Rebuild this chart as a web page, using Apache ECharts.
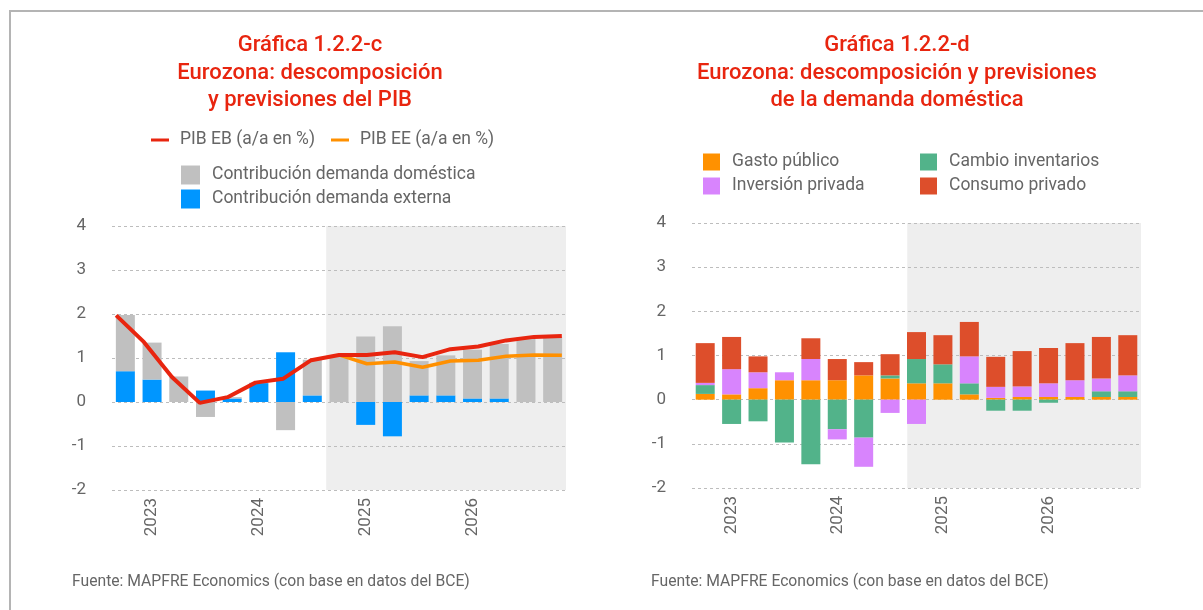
<!DOCTYPE html>
<html>
<head>
<meta charset="utf-8">
<script src="https://cdn.jsdelivr.net/npm/echarts@6/dist/echarts.min.js"></script>
<style>
html,body{margin:0;padding:0;background:#ffffff;}
#chart{width:1203px;height:610px;}
</style>
</head>
<body>
<div id="chart"></div>
<script>
// ---------- DATA ----------
const categories = ['2022-T4',
  '2023-T1','2023-T2','2023-T3','2023-T4',
  '2024-T1','2024-T2','2024-T3','2024-T4',
  '2025-T1','2025-T2','2025-T3','2025-T4',
  '2026-T1','2026-T2','2026-T3','2026-T4'];
const yTicks = [-2, -1, 0, 1, 2, 3, 4];

// Left chart (Gráfica 1.2.2-c)
const pibEB = [1.97, 1.36, 0.57, -0.02, 0.11, 0.44, 0.53, 0.95, 1.07, 1.07, 1.13, 1.02, 1.20, 1.26, 1.40, 1.48, 1.50];
const pibEE = [null, null, null, null, null, null, null, null, 1.07, 0.87, 0.91, 0.79, 0.93, 0.95, 1.04, 1.07, 1.06];
const contribDomestica = [1.28, 0.84, 0.58, -0.34, 0.03, 0.01, -0.64, 0.81, 1.05, 1.49, 1.72, 0.78, 0.91, 1.11, 1.24, 1.47, 1.47];
const contribExterna   = [0.70, 0.51, 0.00, 0.26, 0.08, 0.43, 1.13, 0.15, 0.00, -0.52, -0.78, 0.15, 0.15, 0.08, 0.08, 0.00, 0.00];

// Right chart (Gráfica 1.2.2-d)
const gastoPublico      = [0.13, 0.12, 0.26, 0.44, 0.44, 0.44, 0.55, 0.48, 0.37, 0.37, 0.12, 0.04, 0.06, 0.06, 0.06, 0.06, 0.06];
const cambioInventarios = [0.20, -0.55, -0.49, -0.97, -1.46, -0.67, -0.86, 0.07, 0.55, 0.43, 0.25, -0.25, -0.25, -0.07, 0.00, 0.13, 0.13];
const inversionPrivada  = [0.05, 0.57, 0.36, 0.18, 0.48, -0.23, -0.66, -0.30, -0.55, 0.00, 0.61, 0.25, 0.24, 0.31, 0.38, 0.29, 0.36];
const consumoPrivado    = [0.90, 0.73, 0.36, 0.00, 0.47, 0.48, 0.30, 0.48, 0.61, 0.66, 0.78, 0.68, 0.80, 0.80, 0.84, 0.94, 0.91];

// Forecast shading start (in category-index units, band boundaries at .5)
const forecastStartLeft = 7.52;
const forecastStartRight = 7.65;

// ---------- STYLE ----------
const FONT = 'Roboto, "Noto Sans", sans-serif';
const GRAY_TEXT = '#666666';
const TITLE_RED = '#e8250f';

const chart = echarts.init(document.getElementById('chart'), null, {renderer: 'canvas'});

function yearLabel(v) {
  return v.slice(5) === 'T1' ? v.slice(0, 4) : '';
}

function catAxis(gridIndex) {
  return {
    type: 'category', gridIndex: gridIndex, data: categories,
    axisLine: {show: false}, axisTick: {show: false},
    axisLabel: {interval: 0, rotate: 90, margin: 8, color: GRAY_TEXT, fontSize: 17, fontFamily: FONT, formatter: yearLabel},
    splitLine: {show: false}
  };
}
function hiddenValueX(gridIndex, min, max) {
  return {type: 'value', gridIndex: gridIndex, min: min, max: max, show: false,
          axisLine: {show: false}, splitLine: {show: false}, axisLabel: {show: false}, axisTick: {show: false}};
}
function yAxisDef(gridIndex) {
  return {
    type: 'value', gridIndex: gridIndex, min: yTicks[0], max: yTicks[yTicks.length - 1], interval: 1, z: 1,
    axisLine: {show: false}, axisTick: {show: false},
    axisLabel: {margin: 26, color: GRAY_TEXT, fontSize: 17, fontFamily: FONT},
    splitLine: {show: true, lineStyle: {color: '#bdbdbd', width: 1, type: [3, 3]}}
  };
}

const legendText = {fontSize: 17.5, color: GRAY_TEXT, fontFamily: FONT, lineHeight: 20, padding: [0, 0, 0, 6]};

const option = {
  animation: false,
  backgroundColor: '#ffffff',
  grid: [
    {left: 112, top: 226, width: 454, height: 264, containLabel: false},
    {left: 692, top: 223, width: 449, height: 265, containLabel: false}
  ],
  xAxis: [
    catAxis(0),
    hiddenValueX(0, -0.15, 16.15),
    hiddenValueX(0, -0.5, 16.5),
    catAxis(1),
    hiddenValueX(1, -0.5, 16.5)
  ],
  yAxis: [yAxisDef(0), yAxisDef(1)],
  legend: [
    {
      data: ['PIB EB (a/a en %)', 'PIB EE (a/a en %)'],
      orient: 'horizontal', left: 151, top: 130, padding: 0,
      icon: 'rect', itemWidth: 18, itemHeight: 3, itemGap: 16,
      textStyle: legendText, selectedMode: false
    },
    {
      data: ['Contribución demanda doméstica', 'Contribución demanda externa'],
      orient: 'vertical', left: 181, top: 165, padding: 0,
      icon: 'rect', itemWidth: 19, itemHeight: 19, itemGap: 4,
      textStyle: Object.assign({}, legendText, {padding: [0, 0, 0, 7]}), selectedMode: false
    },
    {
      data: ['Gasto público', 'Inversión privada'],
      orient: 'vertical', left: 703, top: 152, padding: 0,
      icon: 'rect', itemWidth: 17, itemHeight: 17, itemGap: 4,
      textStyle: Object.assign({}, legendText, {padding: [0, 0, 0, 7]}), selectedMode: false
    },
    {
      data: ['Cambio inventarios', 'Consumo privado'],
      orient: 'vertical', left: 920, top: 152, padding: 0,
      icon: 'rect', itemWidth: 17, itemHeight: 17, itemGap: 4,
      textStyle: Object.assign({}, legendText, {padding: [0, 0, 0, 7]}), selectedMode: false
    }
  ],
  series: [
    // ---- shading (left) ----
    {
      type: 'line', name: 'shadeL', xAxisIndex: 2, yAxisIndex: 0, data: [], silent: true, z: 0,
      markArea: {silent: true, z: 0, itemStyle: {color: '#eeeeee'},
        data: [[{coord: [forecastStartLeft, yTicks[0]]}, {coord: [16.5, yTicks[yTicks.length - 1]]}]]}
    },
    // ---- shading (right) ----
    {
      type: 'line', name: 'shadeR', xAxisIndex: 4, yAxisIndex: 1, data: [], silent: true, z: 0,
      markArea: {silent: true, z: 0, itemStyle: {color: '#eeeeee'},
        data: [[{coord: [forecastStartRight, yTicks[0]]}, {coord: [16.5, yTicks[yTicks.length - 1]]}]]}
    },
    // ---- left bars ----
    {
      type: 'bar', name: 'Contribución demanda externa', xAxisIndex: 0, yAxisIndex: 0,
      stack: 'L', barWidth: 19, z: 2, data: contribExterna, itemStyle: {color: '#0096ff'}
    },
    {
      type: 'bar', name: 'Contribución demanda doméstica', xAxisIndex: 0, yAxisIndex: 0,
      stack: 'L', barWidth: 19, z: 2, data: contribDomestica, itemStyle: {color: '#c0c0c0'}
    },
    // ---- left lines ----
    {
      type: 'line', name: 'PIB EE (a/a en %)', xAxisIndex: 1, yAxisIndex: 0, z: 3,
      data: pibEE.map(function (v, i) { return [i, v]; }),
      showSymbol: false, symbol: 'none', connectNulls: false,
      lineStyle: {color: '#ff9000', width: 3.5}, itemStyle: {color: '#ff9000'}
    },
    {
      type: 'line', name: 'PIB EB (a/a en %)', xAxisIndex: 1, yAxisIndex: 0, z: 4,
      data: pibEB.map(function (v, i) { return [i, v]; }),
      showSymbol: false, symbol: 'none',
      lineStyle: {color: '#e8250f', width: 4}, itemStyle: {color: '#e8250f'}
    },
    // ---- right bars ----
    {
      type: 'bar', name: 'Gasto público', xAxisIndex: 3, yAxisIndex: 1,
      stack: 'R', barWidth: 19, z: 2, data: gastoPublico, itemStyle: {color: '#ff9100'}
    },
    {
      type: 'bar', name: 'Cambio inventarios', xAxisIndex: 3, yAxisIndex: 1,
      stack: 'R', barWidth: 19, z: 2, data: cambioInventarios, itemStyle: {color: '#52b38a'}
    },
    {
      type: 'bar', name: 'Inversión privada', xAxisIndex: 3, yAxisIndex: 1,
      stack: 'R', barWidth: 19, z: 2, data: inversionPrivada, itemStyle: {color: '#d884fd'}
    },
    {
      type: 'bar', name: 'Consumo privado', xAxisIndex: 3, yAxisIndex: 1,
      stack: 'R', barWidth: 19, z: 2, data: consumoPrivado, itemStyle: {color: '#dd4e2b'}
    }
  ],
  graphic: [
    {
      type: 'polyline', silent: true, z: 100,
      shape: {points: [[10, 610], [10, 11], [1203, 11]]},
      style: {stroke: '#b4b4b4', lineWidth: 2, fill: null}
    },
    {
      type: 'text', x: 310, y: 32, silent: true,
      style: {text: 'Gráfica 1.2.2-c\nEurozona: descomposición\ny previsiones del PIB',
              fill: TITLE_RED, fontSize: 22, fontWeight: 500, fontFamily: FONT,
              lineHeight: 27.5, align: 'center', verticalAlign: 'top'}
    },
    {
      type: 'text', x: 897, y: 32, silent: true,
      style: {text: 'Gráfica 1.2.2-d\nEurozona: descomposición y previsiones\nde la demanda doméstica',
              fill: TITLE_RED, fontSize: 22, fontWeight: 500, fontFamily: FONT,
              lineHeight: 27.5, align: 'center', verticalAlign: 'top'}
    },
    {
      type: 'text', x: 72, y: 582, silent: true,
      style: {text: 'Fuente: MAPFRE Economics (con base en datos del BCE)',
              fill: GRAY_TEXT, fontSize: 15.7, fontFamily: FONT, align: 'left', verticalAlign: 'middle'}
    },
    {
      type: 'text', x: 651, y: 582, silent: true,
      style: {text: 'Fuente: MAPFRE Economics (con base en datos del BCE)',
              fill: GRAY_TEXT, fontSize: 15.7, fontFamily: FONT, align: 'left', verticalAlign: 'middle'}
    }
  ]
};

chart.setOption(option);
</script>
</body>
</html>
